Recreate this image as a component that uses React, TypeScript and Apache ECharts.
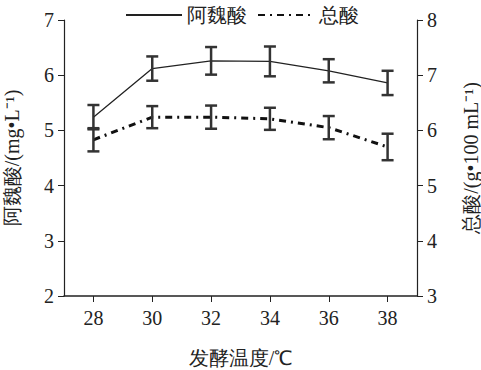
import React, { useEffect, useRef } from "react";
import * as echarts from "echarts";

const temps = ["28", "30", "32", "34", "36", "38"];
const ferulicMean = [5.24, 6.12, 6.26, 6.25, 6.08, 5.86];
const ferulicErr = [0.22, 0.22, 0.25, 0.27, 0.21, 0.22];
const totalMean = [5.83, 6.24, 6.24, 6.21, 6.05, 5.7];
const totalErr = [0.21, 0.2, 0.21, 0.2, 0.21, 0.24];
const leftTicks = { min: 2, max: 7, interval: 1 };
const rightTicks = { min: 3, max: 8, interval: 1 };

const serif = "Liberation Serif";
const ink = "#222";

function errorSeries(mean: number[], err: number[], yAxisIndex: number) {
  return {
    type: "custom",
    yAxisIndex,
    silent: true,
    z: 5,
    data: mean.map((m, i) => [i, m - err[i], m + err[i]]),
    renderItem: (params: any, api: any) => {
      const lo = api.coord([api.value(0), api.value(1)]);
      const hi = api.coord([api.value(0), api.value(2)]);
      const hw = 6;
      const style = { stroke: "#333", lineWidth: 2.5 };
      return {
        type: "group",
        children: [
          { type: "line", shape: { x1: lo[0], y1: lo[1], x2: hi[0], y2: hi[1] }, style },
          { type: "line", shape: { x1: lo[0] - hw, y1: lo[1], x2: lo[0] + hw, y2: lo[1] }, style },
          { type: "line", shape: { x1: hi[0] - hw, y1: hi[1], x2: hi[0] + hw, y2: hi[1] }, style },
        ],
      };
    },
  };
}

export default function App() {
  const ref = useRef<HTMLDivElement>(null);
  useEffect(() => {
    const chart = echarts.init(ref.current!, null, { renderer: "svg" });
    const axisText = { fontFamily: serif, fontSize: 20, color: ink };
    chart.setOption({
      animation: false,
      backgroundColor: "#fff",
      grid: { left: 64, right: 64, top: 20, bottom: 74, containLabel: false, outerBoundsMode: "none" },
      legend: {
        left: 120,
        top: 0,
        itemWidth: 56,
        itemHeight: 14,
        itemGap: 10,
        itemStyle: { opacity: 0 },
        textStyle: { fontFamily: serif, fontSize: 20, color: ink },
        data: ["阿魏酸", "总酸"],
      },
      xAxis: {
        type: "category",
        data: temps,
        boundaryGap: true,
        name: "发酵温度/℃",
        nameLocation: "middle",
        nameGap: 52,
        nameTextStyle: axisText,
        axisLine: { show: true, lineStyle: { color: ink, width: 1.5 } },
        axisTick: { show: true, alignWithLabel: true, length: 6, lineStyle: { color: ink } },
        axisLabel: { ...axisText, margin: 12 },
        splitLine: { show: false },
      },
      yAxis: [
        {
          type: "value",
          ...leftTicks,
          name: "阿魏酸/(mg•L⁻¹)",
          nameLocation: "middle",
          nameGap: 42,
          nameRotate: 90,
          nameTextStyle: axisText,
          axisLine: { show: true, lineStyle: { color: ink, width: 1.2 } },
          axisTick: { show: true, length: 6, lineStyle: { color: ink } },
          axisLabel: { ...axisText, margin: 10 },
          splitLine: { show: false },
        },
        {
          type: "value",
          ...rightTicks,
          position: "right",
          name: "总酸/(g•100 mL⁻¹)",
          nameLocation: "middle",
          nameGap: 44,
          nameRotate: 90,
          nameTextStyle: axisText,
          axisLine: { show: true, lineStyle: { color: ink, width: 1.2 } },
          axisTick: { show: true, length: 6, lineStyle: { color: ink } },
          axisLabel: { ...axisText, margin: 10 },
          splitLine: { show: false },
        },
      ],
      series: [
        {
          name: "阿魏酸",
          type: "line",
          yAxisIndex: 0,
          data: ferulicMean,
          symbol: "none",
          lineStyle: { color: ink, width: 1.3 },
          itemStyle: { color: ink },
        },
        {
          name: "总酸",
          type: "line",
          yAxisIndex: 1,
          data: totalMean,
          symbol: "none",
          lineStyle: { color: "#111", width: 3, type: [7, 5, 2, 5] },
          itemStyle: { color: "#111" },
        },
        errorSeries(ferulicMean, ferulicErr, 0),
        errorSeries(totalMean, totalErr, 1),
      ],
    });
    return () => chart.dispose();
  }, []);
  return <div ref={ref} style={{ width: 481, height: 370, position: "absolute", left: 0, top: 0 }} />;
}
